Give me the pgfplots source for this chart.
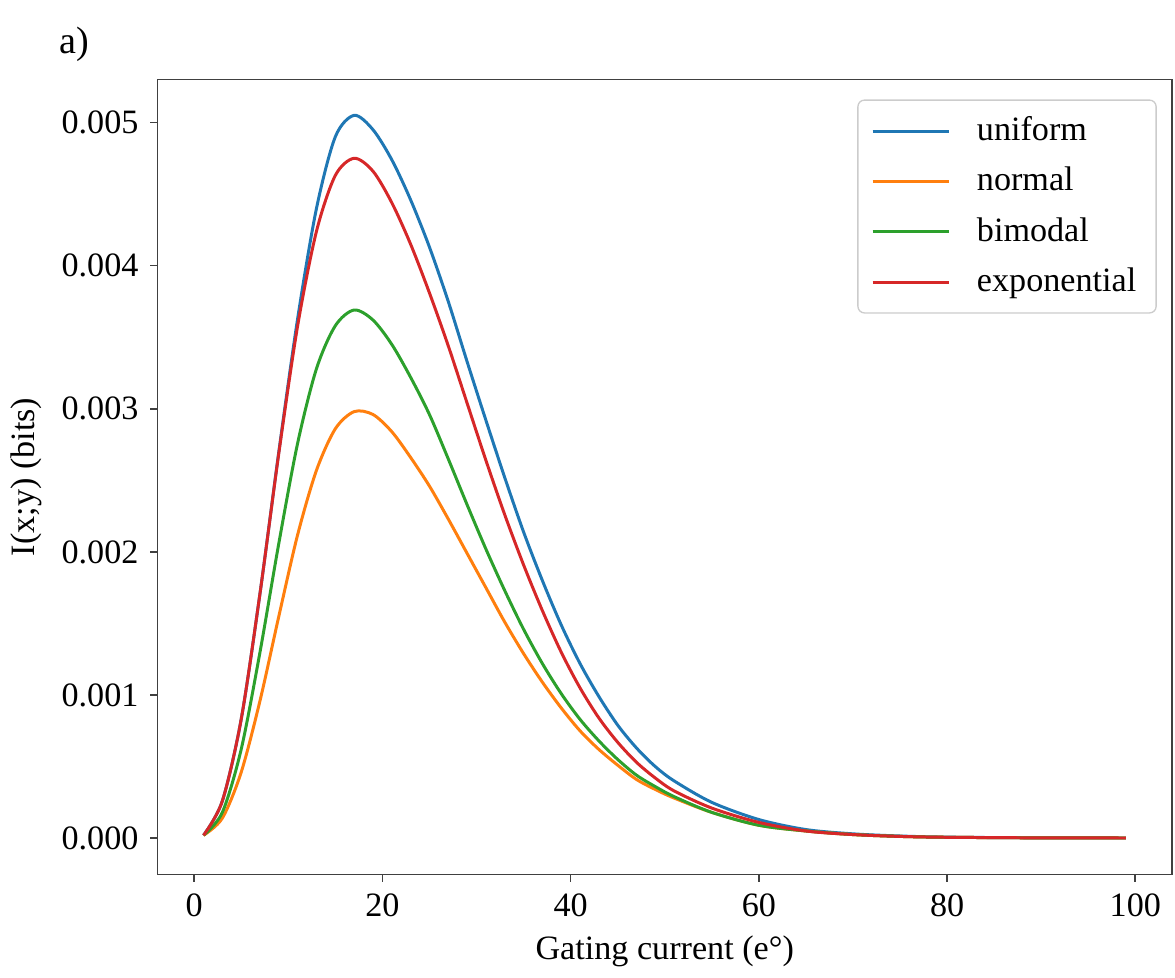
\documentclass[border=0pt]{standalone}
\usepackage{pgfplots}
\pgfplotsset{compat=1.18}
\usepackage{fontspec}
\setmainfont{Liberation Serif}

\definecolor{tabblue}{HTML}{1F77B4}
\definecolor{taborange}{HTML}{FF7F0E}
\definecolor{tabgreen}{HTML}{2CA02C}
\definecolor{tabred}{HTML}{D62728}

% mutual information vs gating current
\pgfplotstableread{
x    uni       nor       bim       expo
1    0.00002   0.00002   0.00002   0.00002
3    0.00026   0.00014   0.00018   0.00026
5    0.00083   0.00046   0.00062   0.00083
7    0.00171   0.00096   0.00130   0.00171
9    0.00270   0.00155   0.00206   0.00269
11   0.00363   0.00212   0.00276   0.00358
13   0.00440   0.00257   0.00328   0.00424
15   0.00490   0.00286   0.00358   0.00463
17   0.00505   0.00298   0.00369   0.00475
19   0.00495   0.00296   0.00362   0.00466
21   0.00474   0.00284   0.00345   0.00444
23   0.00446   0.00266   0.00322   0.00415
25   0.00413   0.00246   0.00296   0.00381
27   0.00375   0.00223   0.00265   0.00344
29   0.00333   0.00199   0.00233   0.00304
31   0.00292   0.00175   0.00202   0.00264
33   0.00252   0.00151   0.00173   0.00226
35   0.00214   0.00129   0.00146   0.00191
37   0.00180   0.00109   0.00122   0.00159
39   0.00149   0.00091   0.00101   0.00130
41   0.00122   0.00075   0.00083   0.00105
43   0.00099   0.00062   0.00068   0.00084
45   0.00079   0.00051   0.00055   0.00067
47   0.00063   0.00041   0.00044   0.00053
49   0.00050   0.00034   0.00036   0.00042
51   0.00040   0.00028   0.00029   0.00033
55   0.00025   0.00018   0.00018   0.00021
60   0.00013   0.00009   0.00009   0.00011
65   0.00006   0.00005   0.00005   0.00005
70   0.00003   0.000025  0.000025  0.000025
75   0.000015  0.000012  0.000012  0.000012
80   0.000007  0.000006  0.000006  0.000006
90   0.000002  0.000002  0.000002  0.000002
99   0.000001  0.000001  0.000001  0.000001
}\mi

\begin{document}
\begin{tikzpicture}[font=\fontsize{10.3}{12}\selectfont]
\begin{axis}[
  name=ax,
  scale only axis,
  width=306pt, height=239.7pt,
  xmin=-3.9, xmax=103.9,
  ymin=-0.000253, ymax=0.0053,
  xtick={0,20,...,100},
  ytick={0,0.001,0.002,0.003,0.004,0.005},
  scaled y ticks=false,
  yticklabel style={/pgf/number format/fixed, /pgf/number format/fixed zerofill,
    /pgf/number format/precision=3},
  /pgf/number format/assume math mode=true,
  tick align=outside, major tick length=2.2pt,
  tick pos=left,
  axis line style={black!75, line width=0.5pt},
  every tick/.style={black!75, line width=0.5pt},
  tick label style={font=\fontsize{10.3}{12}\selectfont},
  xlabel={Gating current (e°)},
  ylabel={I(x;y) (bits)},
  label style={font=\fontsize{10.3}{12}\selectfont},
  xlabel style={yshift=1pt},
  ylabel style={yshift=-1pt},
  legend cell align=left,
  legend style={draw=black!20, rounded corners=2pt, at={(0.985,0.975)}, anchor=north east,
    inner xsep=4pt, inner ysep=3pt, row sep=2.5pt, column sep=6pt,
    font=\fontsize{10.3}{12}\selectfont},
  legend image code/.code={\draw[#1, line width=0.9pt] (0pt,0pt) -- (23pt,0pt);},
  every axis plot/.append style={line width=0.9pt, smooth},
]
\addplot[tabblue] table[x=x, y=uni] {\mi};
\addlegendentry{uniform}
\addplot[taborange] table[x=x, y=nor] {\mi};
\addlegendentry{normal}
\addplot[tabgreen] table[x=x, y=bim] {\mi};
\addlegendentry{bimodal}
\addplot[tabred] table[x=x, y=expo] {\mi};
\addlegendentry{exponential}
\end{axis}
\node[font=\fontsize{11.5}{13}\selectfont] at ([xshift=-25pt, yshift=10.5pt]ax.north west) {a)};
\path ([xshift=-45.6pt, yshift=-28.2pt]ax.south west) ([xshift=0.9pt, yshift=24pt]ax.north east);
\end{tikzpicture}
\end{document}
